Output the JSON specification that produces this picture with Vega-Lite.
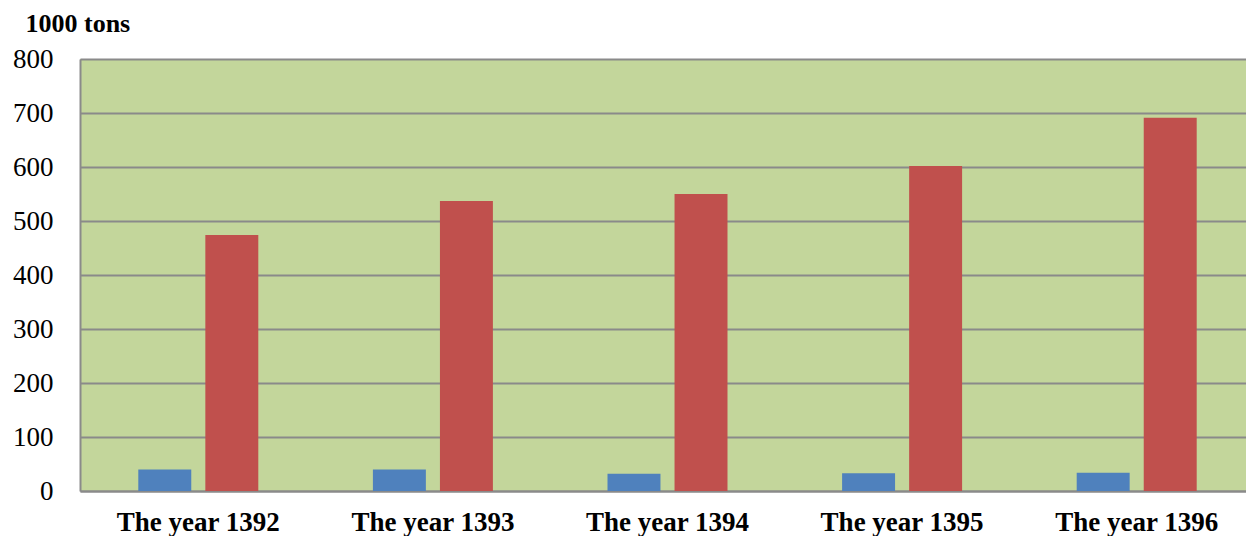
{
  "$schema": "https://vega.github.io/schema/vega-lite/v6.json",
  "width": 1166,
  "height": 432,
  "autosize": {"type": "none"},
  "padding": {"left": 80, "top": 59, "right": 0, "bottom": 45},
  "background": "white",
  "config": {
    "view": {"fill": "#C3D69B", "stroke": null},
    "font": "Liberation Serif"
  },
  "data": {
    "values": [
      {"year": "The year 1392", "series": "Series 1", "value": 40},
      {"year": "The year 1392", "series": "Series 2", "value": 474},
      {"year": "The year 1393", "series": "Series 1", "value": 40},
      {"year": "The year 1393", "series": "Series 2", "value": 537},
      {"year": "The year 1394", "series": "Series 1", "value": 32},
      {"year": "The year 1394", "series": "Series 2", "value": 550},
      {"year": "The year 1395", "series": "Series 1", "value": 33},
      {"year": "The year 1395", "series": "Series 2", "value": 602},
      {"year": "The year 1396", "series": "Series 1", "value": 34},
      {"year": "The year 1396", "series": "Series 2", "value": 691}
    ]
  },
  "mark": {"type": "bar"},
  "encoding": {
    "x": {
      "field": "year",
      "type": "nominal",
      "sort": null,
      "scale": {"paddingInner": 0.4885, "paddingOuter": 0.2485, "range": [0, 1175]},
      "axis": {
        "title": null,
        "labelAngle": 0,
        "ticks": false,
        "domain": true,
        "domainColor": "#8A8A8A",
        "domainWidth": 2,
        "labelFont": "Liberation Serif",
        "labelFontWeight": "bold",
        "labelFontSize": 27,
        "labelColor": "black",
        "labelBaseline": "alphabetic",
        "labelPadding": 39
      }
    },
    "xOffset": {
      "field": "series",
      "type": "nominal",
      "scale": {"paddingInner": 0.21, "paddingOuter": 0}
    },
    "y": {
      "field": "value",
      "type": "quantitative",
      "scale": {"domain": [0, 800], "nice": false},
      "axis": {
        "values": [0, 100, 200, 300, 400, 500, 600, 700, 800],
        "grid": true,
        "gridColor": "#8A8A8A",
        "gridWidth": 2,
        "ticks": false,
        "domain": true,
        "domainColor": "#8A8A8A",
        "domainWidth": 2,
        "labelFont": "Liberation Serif",
        "labelFontSize": 27,
        "labelColor": "black",
        "labelPadding": 27,
        "title": "1000 tons",
        "titleAngle": 0,
        "titleFont": "Liberation Serif",
        "titleFontWeight": "bold",
        "titleFontSize": 26,
        "titleColor": "black",
        "titleAlign": "left",
        "titleBaseline": "alphabetic",
        "titleX": -55,
        "titleY": -28
      }
    },
    "color": {
      "field": "series",
      "type": "nominal",
      "scale": {"domain": ["Series 1", "Series 2"], "range": ["#4F81BD", "#C0504D"]},
      "legend": null
    }
  }
}
